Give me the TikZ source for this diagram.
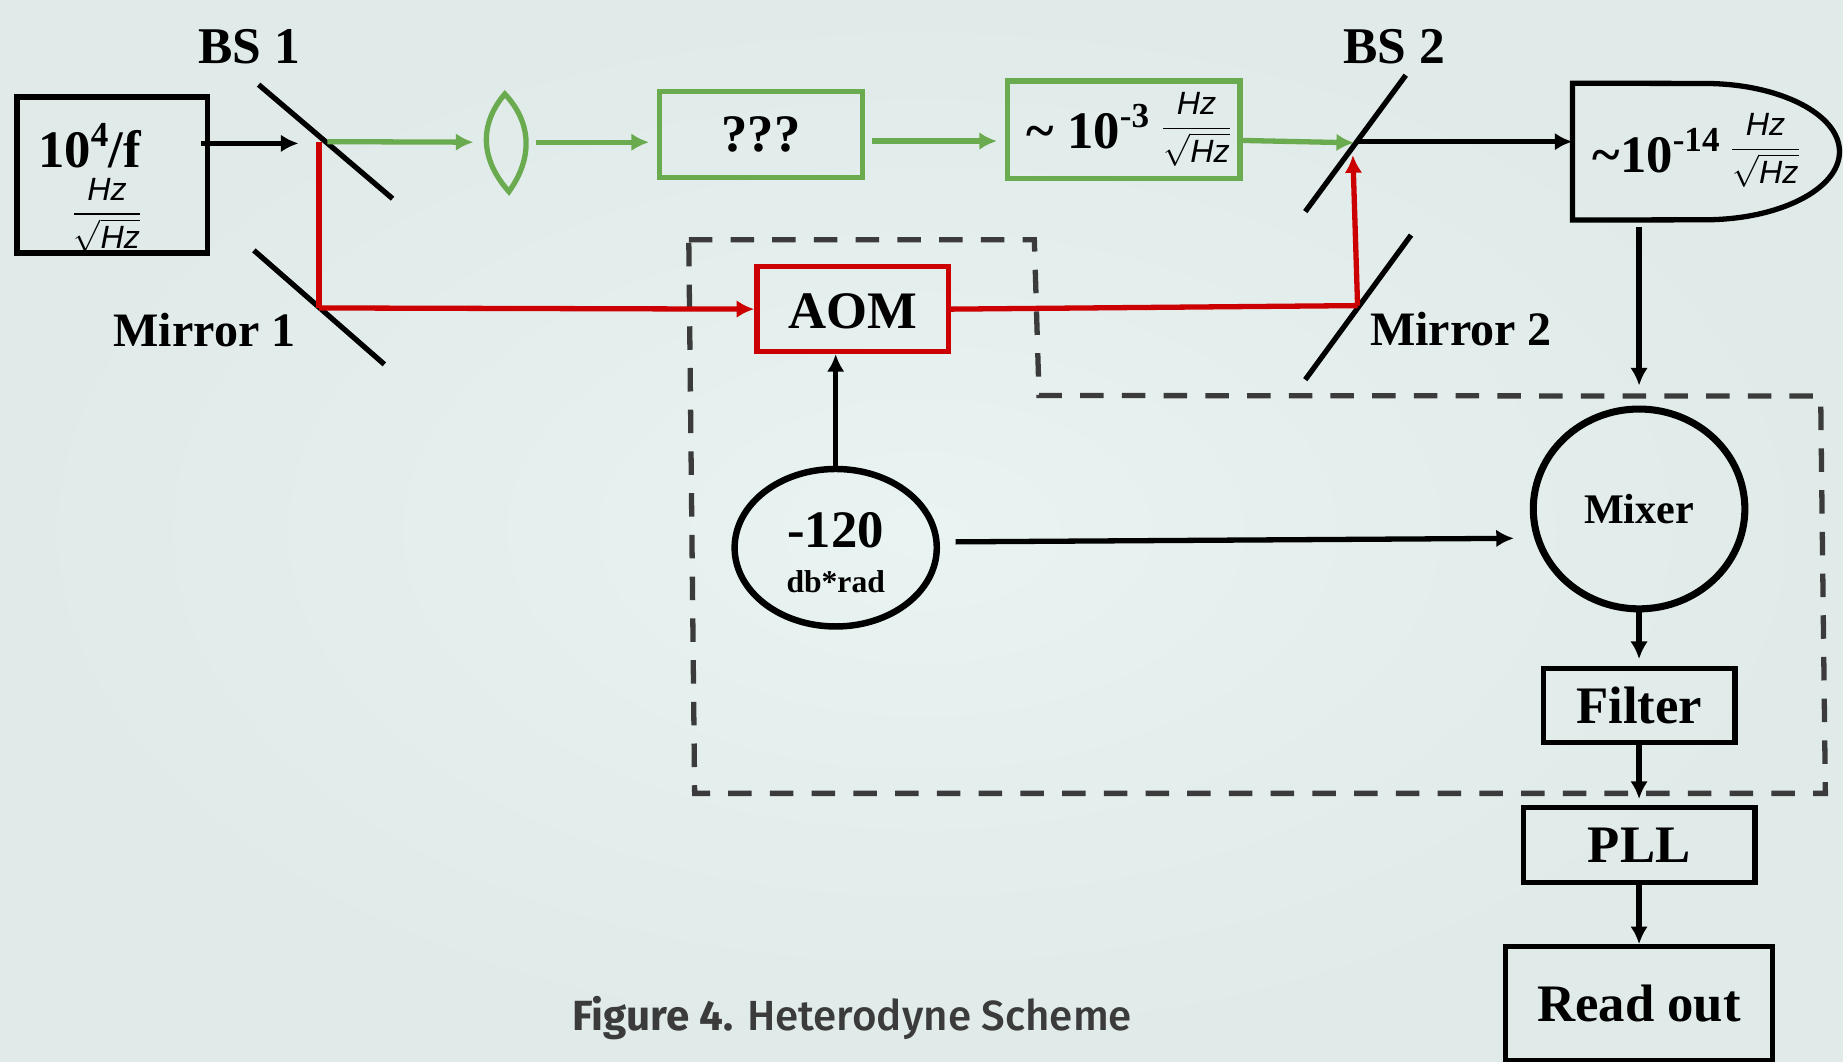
\documentclass[tikz,border=0pt]{standalone}
\usepackage{fontspec}
\usepackage{graphicx}
\setmainfont{Liberation Serif}
\newfontfamily\hzfont{Liberation Sans}
\newfontfamily\capfont[UprightFont=* Medium,BoldFont=* Bold]{Fira Sans}
\usetikzlibrary{arrows.meta,shapes.geometric}
\definecolor{beamgreen}{HTML}{6AAB50}
\definecolor{beamred}{HTML}{CC0000}
\definecolor{dashgray}{HTML}{3B3B3B}
\definecolor{bginner}{HTML}{E9F3F1}
\definecolor{bgouter}{HTML}{DFEAE9}
\newcommand{\hzfrac}{\scalebox{2.75}{\normalsize$\displaystyle\frac{\mbox{\hzfont\itshape Hz}}{\sqrt{\mbox{\hzfont\itshape Hz}}}$}}
\newcommand{\supnum}[1]{\raisebox{.4em}{\fontsize{30}{30}\selectfont #1}}
\tikzset{
  lbl/.style={inner sep=0pt,font=\bfseries\fontsize{45}{45}\selectfont},
  lblsmall/.style={font=\bfseries\fontsize{36}{36}\selectfont},
  lbltiny/.style={inner sep=0pt,font=\bfseries\fontsize{27}{27}\selectfont},
  boxnode/.style={draw,line width=4.5bp,inner sep=0pt,font=\bfseries\fontsize{45}{45}\selectfont},
  fracnode/.style={inner sep=0pt},
  beam/.style={line width=4.5bp,->},
  sig/.style={line width=4.5bp,->},
  mirror/.style={line width=4.5bp},
}
\begin{document}
\begin{tikzpicture}[x=1bp,y=-1bp,>={Latex[length=15bp,width=15bp]}]
  \useasboundingbox (0,0) rectangle (1568,903);
  \shade[inner color=bginner,outer color=bgouter] (0,0) rectangle (1568,903);
%%
  % Node: source
  \node[boxnode,line width=5bp,minimum width=162bp,minimum height=133bp] (source) at (95.5,149) {};
  \node[lbl] (sourcetext) at (76,124) {10\supnum{4}/f};
  \node[fracnode] (sourcefrac) at (91,183) {\hzfrac};
  % Node: lens
  \node[inner sep=0pt,minimum width=34bp,minimum height=88bp] (lens) at (431,121) {};
  \draw[beamgreen,line width=4.5bp] (429.5,80) .. controls (453,105) and (453,135) .. (433,163) .. controls (408,135) and (408,105) .. (429.5,80) -- cycle;
  % Node: unknown
  \node[boxnode,draw=beamgreen,minimum width=173bp,minimum height=73bp] (unknown) at (647.5,114.5) {???};
  % Node: noise
  \node[boxnode,draw=beamgreen,minimum width=198bp,minimum height=83bp] (noise) at (956,110.5) {};
  \node[lbl] (noisetext) at (925.5,108) {\textasciitilde{} 10\supnum{-3}};
  \node[fracnode] (noisefrac) at (1018,110) {\hzfrac};
  % Node: detector
  \node[inner sep=0pt,minimum width=227bp,minimum height=116bp] (detector) at (1451.5,129) {};
  \draw[line width=4.5bp] (detector.north west) -- (1450,71) arc[start angle=-90,end angle=90,x radius=115bp,y radius=-58bp] -- (detector.south west) -- cycle;
  \node[lbl] (detectortext) at (1409,128) {\textasciitilde{}10\supnum{-14}};
  \node[fracnode] (detectorfrac) at (1502,128) {\hzfrac};
  % Node: aom
  \node[boxnode,draw=beamred,minimum width=163bp,minimum height=72bp] (aom) at (725.5,263) {};
  \node[lbl] (aomtext) at (725.5,265) {AOM};
  % Node: oscillator
  \node[draw,ellipse,line width=5.5bp,inner sep=0pt,minimum width=172bp,minimum height=134bp] (osc) at (711,466) {};
  \node[lbl] (osctext) at (711,451) {-120};
  \node[lbltiny] (oscsub) at (711,495) {db*rad};
  % Node: mixer
  \node[draw,ellipse,line width=6bp,inner sep=0pt,minimum width=180bp,minimum height=170bp,lblsmall] (mixer) at (1394.5,433) {Mixer};
  % Node: filter
  \node[boxnode,minimum width=163bp,minimum height=63bp] (filter) at (1394.5,600.5) {Filter};
  % Node: pll
  \node[boxnode,minimum width=197bp,minimum height=64bp] (pll) at (1394.5,719) {PLL};
  % Node: readout
  \node[boxnode,minimum width=227bp,minimum height=97bp] (readout) at (1394.5,854) {Read out};
  % Labels
  \node[lbl,font=\bfseries\fontsize{44}{44}\selectfont] (bsonelabel) at (212,40) {BS 1};
  \node[lbl,font=\bfseries\fontsize{44}{44}\selectfont] (bstwolabel) at (1186,40) {BS 2};
  \node[lbl,font=\bfseries\fontsize{41}{41}\selectfont] (mirroronelabel) at (174,281) {Mirror 1};
  \node[lbl,font=\bfseries\fontsize{41}{41}\selectfont] (mirrortwolabel) at (1243,280) {Mirror 2};
  \node[inner sep=0pt,text=dashgray,font=\capfont\fontsize{36}{36}\selectfont] (caption) at (725,866) {\textbf{Figure 4.} Heterodyne Scheme};
  % Mirrors
  \draw[mirror] (220,72) coordinate (bsonea) -- (334,169) coordinate (bsoneb);
  \draw[mirror] (216,213) coordinate (mirroronea) -- (327,310) coordinate (mirroroneb);
  \draw[mirror] (1196,64) coordinate (bstwoa) -- (1110.5,180) coordinate (bstwob);
  \draw[mirror] (1200.5,200) coordinate (mirrortwoa) -- (1110.5,323) coordinate (mirrortwob);
  % Beam points
  \coordinate (srcout) at (171,122);
  \coordinate (bsonein) at (254,122);
  \coordinate (bsonehit) at (271.5,120.5);
  \coordinate (mirrorone) at (271.5,262);
  \coordinate (bstwohit) at (1155,120.5);
  \coordinate (mirrortwo) at (1155,260);
  % Region
  \draw[dashgray,line width=4.5bp,dash pattern=on 20bp off 15.5bp] (586,204) -- (880,204) -- (884,336.5) -- (1549,337) -- (1553,675) -- (591,675) -- cycle;
  % Edge: source -> bs1
  \draw[sig] (srcout) -- (bsonein);
  % Edge: bs1 -> lens
  \draw[beam,beamgreen,shorten <=7bp,shorten >=11bp] (bsonehit) -- (lens.west);
  % Edge: lens -> unknown
  \draw[beam,beamgreen,shorten <=8bp,shorten >=6.5bp] (lens.east) -- (unknown.west |- lens.east);
  % Edge: unknown -> noise
  \draw[beam,beamgreen,shorten <=6bp,shorten >=6.5bp] (unknown.east |- 0,120) -- (noise.west |- 0,120);
  % Edge: noise -> bs2
  \draw[beam,beamgreen] (noise.east |- 0,119.5) -- (1152,121.5);
  % Edge: bs2 -> detector
  \draw[sig] (bstwohit) -- (detector.west |- bstwohit);
  % Edge: bs1 -> mirror1
  \draw[beamred,line width=4.5bp] (bsonehit) -- (mirrorone);
  % Edge: mirror1 -> aom
  \draw[beam,beamred] (mirrorone) -- (aom.west);
  % Edge: aom -> mirror2
  \draw[beamred,line width=4.5bp] (aom.east) -- (mirrortwo);
  % Edge: mirror2 -> bs2
  \draw[beam,beamred] (mirrortwo) -- (1151,132);
  % Edge: osc -> aom
  \draw[sig] (osc.north) -- (aom.south -| osc.north);
  % Edge: osc -> mixer
  \draw[sig] (813,461) -- (1288,458);
  % Edge: detector -> mixer
  \draw[sig,shorten <=6bp,shorten >=17bp] (detector.south -| mixer.north) -- (mixer.north);
  % Edge: mixer -> filter
  \draw[sig,shorten <=-2bp,shorten >=6bp] (mixer.south) -- (filter.north);
  % Edge: filter -> pll
  \draw[sig,shorten >=5bp] (filter.south) -- (pll.north);
  % Edge: pll -> readout
  \draw[sig] (pll.south) -- (readout.north);
%
\end{tikzpicture}
\end{document}
